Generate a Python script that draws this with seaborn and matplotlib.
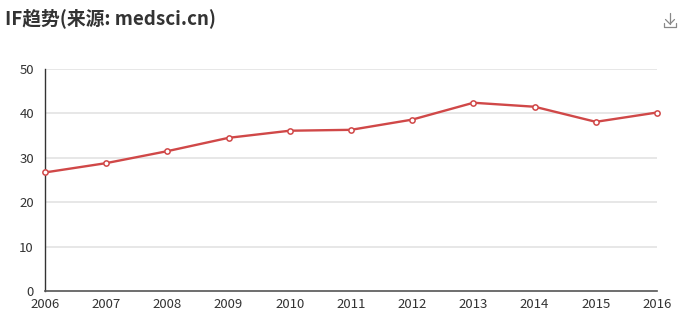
import matplotlib
matplotlib.use("Agg")
import matplotlib.pyplot as plt
from matplotlib.lines import Line2D
import seaborn as sns
import pandas as pd

years = [2006, 2007, 2008, 2009, 2010, 2011, 2012, 2013, 2014, 2015, 2016]
impact_factor = [26.7, 28.8, 31.5, 34.5, 36.1, 36.3, 38.6, 42.4, 41.5, 38.1, 40.2]
y_ticks = [0, 10, 20, 30, 40, 50]
title_text = "IF趋势(来源: medsci.cn)"

sns.set_theme(style="white")
plt.rcParams["font.family"] = ["Noto Sans CJK SC", "DejaVu Sans"]

df = pd.DataFrame({"year": years, "IF": impact_factor})

W, H = 684, 325
fig = plt.figure(figsize=(W / 100, H / 100), dpi=100)
ax = fig.add_axes([45 / W, 34 / H, (657 - 45) / W, (291 - 69) / H])

line_color = "#d04848"
sns.lineplot(data=df, x="year", y="IF", ax=ax, color=line_color, linewidth=1.7,
             marker="o", markersize=3.8, markerfacecolor="white",
             markeredgecolor=line_color, markeredgewidth=1.1, zorder=3,
             clip_on=False)

ax.set_xlim(years[0], years[-1])
ax.set_ylim(0, 50)
ax.set_xticks(years)
ax.set_yticks(y_ticks)
ax.set_xlabel("")
ax.set_ylabel("")

for y in y_ticks[1:]:
    ax.axhline(y, color="#e3e3e3", linewidth=1.2, zorder=1)

for side in ["top", "right"]:
    ax.spines[side].set_visible(False)
ax.spines["left"].set_color("#333333")
ax.spines["left"].set_linewidth(1)
ax.spines["bottom"].set_color("#555555")
ax.spines["bottom"].set_linewidth(1.2)

ax.tick_params(axis="both", which="both", length=5, width=1, color="#444444",
               labelcolor="#333333", labelsize=9.5)
ax.tick_params(axis="y", pad=3)
ax.tick_params(axis="x", direction="out", length=4, pad=1)

fig.text(5 / W, 1 - 18 / H, title_text, fontsize=13.5, fontweight="bold",
         color="#333333", va="center", ha="left")

# download icon in the top-right corner
icon_color = "#888888"
def px(x, y):
    return x / W, 1 - y / H
segments = [
    [(670, 13), (670, 24)],
    [(665.5, 19.5), (670, 24), (674.5, 19.5)],
    [(664, 23), (664, 27), (676, 27), (676, 23)],
]
for seg in segments:
    xs = [px(*p)[0] for p in seg]
    ys = [px(*p)[1] for p in seg]
    fig.add_artist(Line2D(xs, ys, transform=fig.transFigure, color=icon_color,
                          linewidth=0.9))

fig.savefig("out.png", dpi=100)
